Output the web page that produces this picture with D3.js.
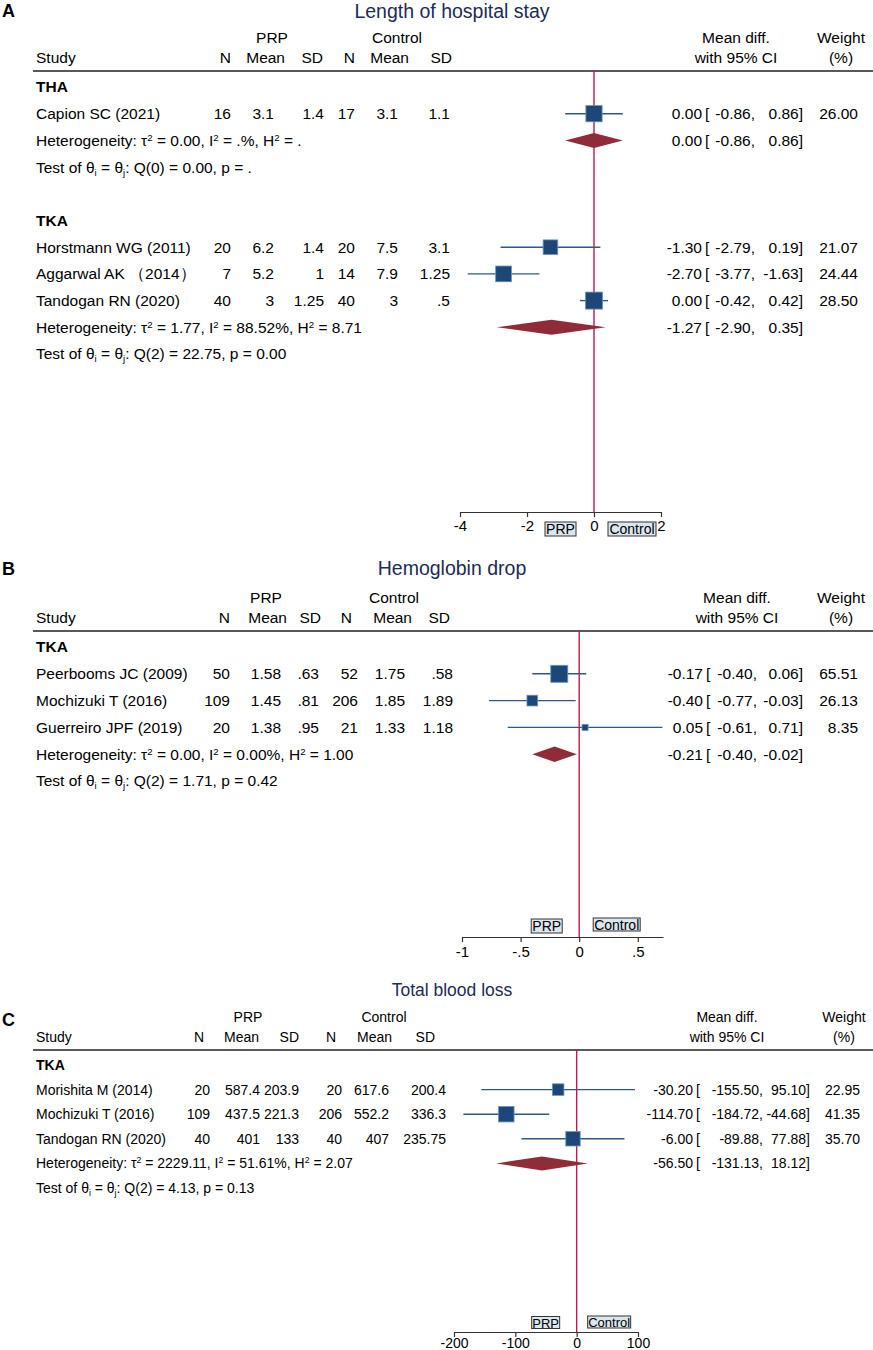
<!DOCTYPE html>
<html>
<head>
<meta charset="utf-8">
<script src="https://cdn.jsdelivr.net/npm/d3@7"></script>
<style>
  body { margin: 0; background: #fff; }
  svg { font-family: "Liberation Sans", Arial, sans-serif; }
</style>
</head>
<body>
<script>
// ---------- A: Length of hospital stay ----------
var hospStudy    = ["Capion SC (2021)", "Horstmann WG (2011)", "Aggarwal AK （2014）", "Tandogan RN (2020)"];
var hospGroup    = ["THA", "TKA", "TKA", "TKA"];
var hospPrpN     = [16, 20, 7, 40];
var hospPrpMean  = [3.1, 6.2, 5.2, 3];
var hospPrpSD    = [1.4, 1.4, 1, 1.25];
var hospCtlN     = [17, 20, 14, 40];
var hospCtlMean  = [3.1, 7.5, 7.9, 3];
var hospCtlSD    = [1.1, 3.1, 1.25, 0.5];
var hospMD       = [0.00, -1.30, -2.70, 0.00];
var hospLo       = [-0.86, -2.79, -3.77, -0.42];
var hospHi       = [0.86, 0.19, -1.63, 0.42];
var hospWeight   = [26.00, 21.07, 24.44, 28.50];
var hospSub      = ["THA", "TKA"];
var hospSubMD    = [0.00, -1.27];
var hospSubLo    = [-0.86, -2.90];
var hospSubHi    = [0.86, 0.35];
var hospTau2     = ["0.00", "1.77"];
var hospI2       = [".%", "88.52%"];
var hospH2       = [".", "8.71"];
var hospQdf      = [0, 2];
var hospQ        = ["0.00", "22.75"];
var hospP        = [".", "0.00"];
var hospTicks    = [-4, -2, 0, 2];
var hospTickText = ["-4", "-2", "0", "2"];

// ---------- B: Hemoglobin drop ----------
var hbStudy    = ["Peerbooms JC (2009)", "Mochizuki T (2016)", "Guerreiro JPF (2019)"];
var hbGroup    = ["TKA", "TKA", "TKA"];
var hbPrpN     = [50, 109, 20];
var hbPrpMean  = [1.58, 1.45, 1.38];
var hbPrpSD    = [0.63, 0.81, 0.95];
var hbCtlN     = [52, 206, 21];
var hbCtlMean  = [1.75, 1.85, 1.33];
var hbCtlSD    = [0.58, 1.89, 1.18];
var hbMD       = [-0.17, -0.40, 0.05];
var hbLo       = [-0.40, -0.77, -0.61];
var hbHi       = [0.06, -0.03, 0.71];
var hbWeight   = [65.51, 26.13, 8.35];
var hbSub      = ["TKA"];
var hbSubMD    = [-0.21];
var hbSubLo    = [-0.40];
var hbSubHi    = [-0.02];
var hbTau2     = ["0.00"];
var hbI2       = ["0.00%"];
var hbH2       = ["1.00"];
var hbQdf      = [2];
var hbQ        = ["1.71"];
var hbP        = ["0.42"];
var hbTicks    = [-1, -0.5, 0, 0.5];
var hbTickText = ["-1", "-.5", "0", ".5"];

// ---------- C: Total blood loss ----------
var tblStudy    = ["Morishita M (2014)", "Mochizuki T (2016)", "Tandogan RN (2020)"];
var tblGroup    = ["TKA", "TKA", "TKA"];
var tblPrpN     = [20, 109, 40];
var tblPrpMean  = [587.4, 437.5, 401];
var tblPrpSD    = [203.9, 221.3, 133];
var tblCtlN     = [20, 206, 40];
var tblCtlMean  = [617.6, 552.2, 407];
var tblCtlSD    = [200.4, 336.3, 235.75];
var tblMD       = [-30.20, -114.70, -6.00];
var tblLo       = [-155.50, -184.72, -89.88];
var tblHi       = [95.10, -44.68, 77.88];
var tblWeight   = [22.95, 41.35, 35.70];
var tblSub      = ["TKA"];
var tblSubMD    = [-56.50];
var tblSubLo    = [-131.13];
var tblSubHi    = [18.12];
var tblTau2     = ["2229.11"];
var tblI2       = ["51.61%"];
var tblH2       = ["2.07"];
var tblQdf      = [2];
var tblQ        = ["4.13"];
var tblP        = ["0.13"];
var tblTicks    = [-200, -100, 0, 100];
var tblTickText = ["-200", "-100", "0", "100"];

var W = 873, H = 1350;
var svg = d3.select("body").append("svg").attr("width", W).attr("height", H);

// stata style number: drop leading zero
function sn(v) { return String(v).replace(/^0\./, ".").replace(/^-0\./, "-."); }
function f2(v) { return v.toFixed(2); }

function drawPanel(p) {
  var g = svg.append("g");
  var fs = p.fontSize;

  function txt(x, y, s, anchor, size) {
    return g.append("text").attr("x", x).attr("y", y).attr("dy", "0.35em")
      .attr("text-anchor", anchor || "start")
      .style("font-size", (size || fs) + "px").text(s);
  }

  // panel letter and title
  txt(2, p.letterY, p.letter).style("font-weight", "bold").style("font-size", "18px");
  txt(452, p.titleY, p.title, "middle", p.titleSize).attr("fill", "#1d2b57");

  // header
  var hy1 = p.lineY - 33, hy2 = p.lineY - 13;
  txt(p.prpX, hy1, "PRP", "middle");
  txt(p.ctlX, hy1, "Control", "middle");
  txt(36, hy2, "Study");
  ["N", "Mean", "SD", "N", "Mean", "SD"].forEach(function (h, i) {
    txt(p.headRight[i], hy2, h, "end");
  });
  txt(p.mdHeadX, hy1, "Mean diff.", "middle");
  txt(p.mdHeadX, hy2, "with 95% CI", "middle");
  txt(p.wHeadX, hy1, "Weight", "middle");
  txt(p.wHeadX, hy2, "(%)", "middle");
  g.append("line").attr("x1", 33).attr("x2", W).attr("y1", p.lineY).attr("y2", p.lineY)
    .attr("stroke", "#222").attr("stroke-width", 1.3);

  // row layout
  var rows = [], r = 0;
  p.sub.forEach(function (sg, gi) {
    if (gi > 0) r++;
    rows.push({ type: "group", r: r++, label: sg });
    p.group.forEach(function (gname, i) {
      if (gname === sg) rows.push({ type: "study", r: r++, i: i });
    });
    rows.push({ type: "het", r: r++, gi: gi });
    rows.push({ type: "test", r: r++, gi: gi });
  });
  function rowY(k) { return p.firstY + k * p.step; }

  var x = d3.scaleLinear().domain(p.domain).range(p.range);
  var maxW = d3.max(p.weight);

  // zero line
  g.append("line").attr("x1", x(0)).attr("x2", x(0)).attr("y1", p.lineY).attr("y2", p.axisY)
    .attr("stroke", "#c4174b").attr("stroke-width", 1.4);

  function ciText(y, m, lo, hi) {
    txt(p.effRight, y, f2(m), "end");
    txt(p.effRight + 3, y, "[");
    txt(p.loRight, y, f2(lo) + ",", "end");
    txt(p.hiRight, y, f2(hi) + "]", "end");
  }

  rows.forEach(function (row) {
    var y = rowY(row.r);
    if (row.type === "group") {
      txt(36, y, row.label).style("font-weight", "bold");
    } else if (row.type === "study") {
      var i = row.i;
      txt(36, y, p.study[i]);
      var vals = [p.prpN[i], sn(p.prpMean[i]), sn(p.prpSD[i]), p.ctlN[i], sn(p.ctlMean[i]), sn(p.ctlSD[i])];
      vals.forEach(function (v, c) { txt(p.valRight[c], y, v, "end"); });
      g.append("line").attr("x1", x(p.lo[i])).attr("x2", x(p.hi[i])).attr("y1", y).attr("y2", y)
        .attr("stroke", "#2d5986").attr("stroke-width", 1.4);
      var s = p.sqMax * Math.sqrt(p.weight[i] / maxW);
      g.append("rect").attr("x", x(p.md[i]) - s / 2).attr("y", y - s / 2)
        .attr("width", s).attr("height", s)
        .attr("fill", "#1b4878").attr("stroke", "#6f92b8").attr("stroke-width", 0.8);
      ciText(y, p.md[i], p.lo[i], p.hi[i]);
      txt(p.wRight, y, f2(p.weight[i]), "end");
    } else if (row.type === "het") {
      var k = row.gi;
      var sup = (fs * 0.62) + "px";
      var t = txt(36, y, null);
      t.append("tspan").text("Heterogeneity: \u03c4");
      t.append("tspan").attr("dy", -5).style("font-size", sup).text("2");
      t.append("tspan").attr("dy", 5).text(" = " + p.tau2[k] + ", I");
      t.append("tspan").attr("dy", -5).style("font-size", sup).text("2");
      t.append("tspan").attr("dy", 5).text(" = " + p.i2[k] + ", H");
      t.append("tspan").attr("dy", -5).style("font-size", sup).text("2");
      t.append("tspan").attr("dy", 5).text(" = " + p.h2[k]);
      // pooled diamond
      var lo = p.subLo[k], hi = p.subHi[k], m = p.subMD[k], dh = p.diaH;
      g.append("path")
        .attr("d", "M" + x(lo) + "," + y + "L" + x(m) + "," + (y - dh) + "L" + x(hi) + "," + y +
                   "L" + x(m) + "," + (y + dh) + "Z")
        .attr("fill", "#8f2c38");
      ciText(y, m, lo, hi);
    } else {
      var k2 = row.gi;
      var sub = (fs * 0.62) + "px";
      var t2 = txt(36, y, null);
      t2.append("tspan").text("Test of \u03b8");
      t2.append("tspan").attr("dy", 3).style("font-size", sub).text("i");
      t2.append("tspan").attr("dy", -3).text(" = \u03b8");
      t2.append("tspan").attr("dy", 3).style("font-size", sub).text("j");
      t2.append("tspan").attr("dy", -3).text(": Q(" + p.qdf[k2] + ") = " + p.q[k2] + ", p = " + p.p[k2]);
    }
  });

  // axis
  var ax = g.append("g").attr("transform", "translate(0," + p.axisY + ")")
    .call(d3.axisBottom(x).tickValues(p.ticks)
      .tickFormat(function (d, i) { return p.tickText[i]; })
      .tickSize(5).tickSizeOuter(0).tickPadding(p.tickPad));
  ax.select(".domain").attr("stroke", "#333").attr("stroke-width", 1.2);
  ax.selectAll(".tick line").attr("stroke", "#333").attr("stroke-width", 1.2);
  ax.selectAll(".tick text").attr("fill", "#000")
    .style("font-size", p.tickSize + "px").style("font-family", "'Liberation Sans', Arial, sans-serif");

  // favours boxes
  p.boxes.forEach(function (b) {
    var cx = x(0) + b.dx;
    g.append("rect").attr("x", cx - b.w / 2).attr("y", b.cy - b.h / 2)
      .attr("width", b.w).attr("height", b.h)
      .attr("fill", "#dce6ef").attr("stroke", "#333").attr("stroke-width", 1);
    txt(cx, b.cy + 0.5, b.label, "middle", p.boxFont);
  });
}

drawPanel({
  letter: "A", letterY: 11, title: "Length of hospital stay", titleY: 11, titleSize: 19.5,
  fontSize: 15.5, lineY: 71, firstY: 87, step: 26.7,
  prpX: 272, ctlX: 397,
  headRight: [231, 285, 323, 355, 409, 452],
  valRight:  [231, 274, 324, 355, 398, 450],
  mdHeadX: 736, wHeadX: 841,
  effRight: 702, loRight: 755, hiRight: 803, wRight: 858,
  domain: [-4, 2], range: [460, 661], axisY: 512, tickSize: 15, tickPad: 3,
  sqMax: 17, diaH: 7.5, boxFont: 14,
  boxes: [{ label: "PRP", dx: -33.5, cy: 529, w: 31, h: 14 },
          { label: "Control", dx: 38, cy: 529, w: 48, h: 14 }],
  study: hospStudy, group: hospGroup, prpN: hospPrpN, prpMean: hospPrpMean, prpSD: hospPrpSD,
  ctlN: hospCtlN, ctlMean: hospCtlMean, ctlSD: hospCtlSD,
  md: hospMD, lo: hospLo, hi: hospHi, weight: hospWeight,
  sub: hospSub, subMD: hospSubMD, subLo: hospSubLo, subHi: hospSubHi,
  tau2: hospTau2, i2: hospI2, h2: hospH2, qdf: hospQdf, q: hospQ, p: hospP,
  ticks: hospTicks, tickText: hospTickText
});

drawPanel({
  letter: "B", letterY: 569, title: "Hemoglobin drop", titleY: 568, titleSize: 19.5,
  fontSize: 15.5, lineY: 631, firstY: 647, step: 26.8,
  prpX: 266, ctlX: 394,
  headRight: [230, 287, 321, 352, 412, 450],
  valRight:  [230, 281, 319, 358, 405, 453],
  mdHeadX: 737, wHeadX: 841,
  effRight: 703, loRight: 757, hiRight: 803, wRight: 858,
  domain: [-1, 0.715], range: [462, 663], axisY: 937, tickSize: 15, tickPad: 4,
  sqMax: 17, diaH: 7.8, boxFont: 14,
  boxes: [{ label: "PRP", dx: -32.5, cy: 926, w: 31, h: 14 },
          { label: "Control", dx: 37.5, cy: 924.5, w: 47, h: 13 }],
  study: hbStudy, group: hbGroup, prpN: hbPrpN, prpMean: hbPrpMean, prpSD: hbPrpSD,
  ctlN: hbCtlN, ctlMean: hbCtlMean, ctlSD: hbCtlSD,
  md: hbMD, lo: hbLo, hi: hbHi, weight: hbWeight,
  sub: hbSub, subMD: hbSubMD, subLo: hbSubLo, subHi: hbSubHi,
  tau2: hbTau2, i2: hbI2, h2: hbH2, qdf: hbQdf, q: hbQ, p: hbP,
  ticks: hbTicks, tickText: hbTickText
});

drawPanel({
  letter: "C", letterY: 1020, title: "Total blood loss", titleY: 990, titleSize: 17.5,
  fontSize: 14, lineY: 1050, firstY: 1065, step: 24.6,
  prpX: 248, ctlX: 384,
  headRight: [204, 259, 299, 336, 392, 435],
  valRight:  [210, 260, 299, 342, 389, 446],
  mdHeadX: 727, wHeadX: 844,
  effRight: 693, loRight: 763, hiRight: 810, wRight: 860,
  domain: [-200, 100], range: [454, 638], axisY: 1332, tickSize: 14, tickPad: 1,
  sqMax: 15.5, diaH: 7, boxFont: 13,
  boxes: [{ label: "PRP", dx: -31, cy: 1322.5, w: 28, h: 12 },
          { label: "Control", dx: 32.5, cy: 1322, w: 43, h: 12 }],
  study: tblStudy, group: tblGroup, prpN: tblPrpN, prpMean: tblPrpMean, prpSD: tblPrpSD,
  ctlN: tblCtlN, ctlMean: tblCtlMean, ctlSD: tblCtlSD,
  md: tblMD, lo: tblLo, hi: tblHi, weight: tblWeight,
  sub: tblSub, subMD: tblSubMD, subLo: tblSubLo, subHi: tblSubHi,
  tau2: tblTau2, i2: tblI2, h2: tblH2, qdf: tblQdf, q: tblQ, p: tblP,
  ticks: tblTicks, tickText: tblTickText
});
</script>
</body>
</html>
